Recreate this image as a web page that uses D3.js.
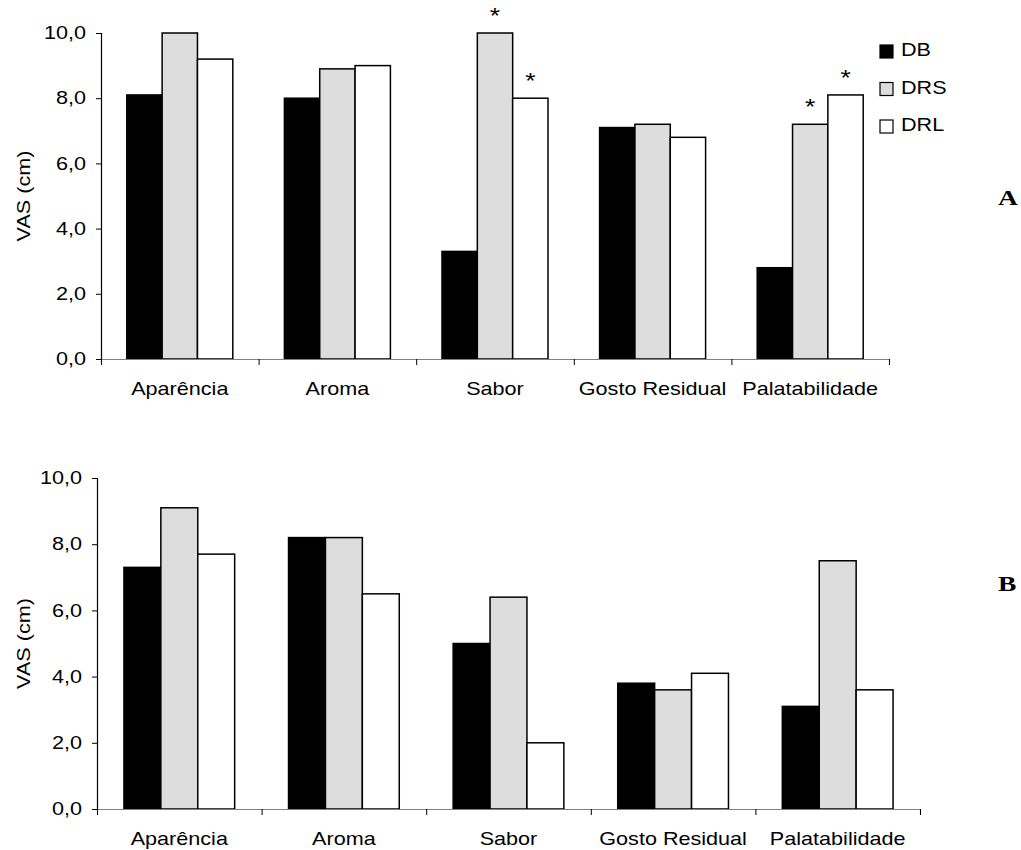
<!DOCTYPE html>
<html>
<head>
<meta charset="utf-8">
<script src="https://cdn.jsdelivr.net/npm/d3@7"></script>
<style>
  body { margin: 0; background: #fff; }
  svg { display: block; font-family: Arial, 'Liberation Sans', sans-serif; }
</style>
</head>
<body>
<div id="chart"></div>
<script>
const categories = ['Aparência', 'Aroma', 'Sabor', 'Gosto Residual', 'Palatabilidade'];
const series = ['DB', 'DRS', 'DRL'];
const yTicks = [0, 2, 4, 6, 8, 10];

// panel A
const dbA = [8.1, 8.0, 3.3, 7.1, 2.8];
const drsA = [10.0, 8.9, 10.0, 7.2, 7.2];
const drlA = [9.2, 9.0, 8.0, 6.8, 8.1];
const starCatsA = ['Sabor', 'Sabor', 'Palatabilidade', 'Palatabilidade'];
const starSeriesA = ['DRS', 'DRL', 'DRS', 'DRL'];

// panel B
const dbB = [7.3, 8.2, 5.0, 3.8, 3.1];
const drsB = [9.1, 8.2, 6.4, 3.6, 7.5];
const drlB = [7.7, 6.5, 2.0, 4.1, 3.6];

const fills = { DB: '#000000', DRS: '#dddddd', DRL: '#ffffff' };
const SX = 1.2; // the source font renders wider than Arial
const fmt = d => d3.format('.1f')(d).replace('.', ',');

const svg = d3.select('#chart')
  .append('svg')
    .attr('width', 1021)
    .attr('height', 850);

// turn x/y of a text into a translate so it can be stretched sideways
function stretch(sel) {
  sel.each(function () {
    const t = d3.select(this);
    const x = +t.attr('x') || 0;
    const y = +t.attr('y') || 0;
    t.attr('x', 0).attr('y', 0)
      .attr('transform', `translate(${x},${y}) scale(${SX},1)`);
  });
}

function panel({ left, top, width, height, values, stars, tag, tagY, legend }) {
  const g = svg.append('g')
    .attr('transform', `translate(${left},${top})`);

  const rows = categories.map((c, i) => ({
    cat: c,
    vals: series.map((s, j) => ({ s, v: values[j][i] })),
  }));

  const x0 = d3.scaleBand().domain(categories).range([0, width]);
  const x1 = d3.scaleBand().domain(series)
    .range([0, x0.bandwidth()])
    .paddingOuter(0.73);
  const xi = d3.scaleLinear().domain([0, categories.length]).range([0, width]);
  const y = d3.scaleLinear().domain([0, 10]).range([height, 0]);

  // y axis
  const ay = g.append('g')
    .call(d3.axisLeft(y).tickValues(yTicks).tickFormat(fmt).tickSize(5).tickPadding(10));
  ay.select('.domain').attr('stroke', '#000').attr('stroke-width', 1.2);
  ay.selectAll('.tick line').attr('stroke', '#000');
  ay.selectAll('.tick text')
    .attr('font-size', 18)
    .attr('fill', '#000')
    .call(stretch);

  // bars
  g.append('g')
    .selectAll('g')
    .data(rows)
    .enter()
    .append('g')
      .attr('transform', d => `translate(${x0(d.cat)},0)`)
    .selectAll('rect')
    .data(d => d.vals)
    .enter()
    .append('rect')
      .attr('x', d => x1(d.s))
      .attr('y', d => y(d.v))
      .attr('width', x1.bandwidth())
      .attr('height', d => height - y(d.v))
      .attr('fill', d => fills[d.s])
      .attr('stroke', '#000')
      .attr('stroke-width', 1.5);

  // x axis: ticks between the categories, labels at their centres
  const ax = g.append('g')
    .attr('transform', `translate(0,${height})`)
    .call(d3.axisBottom(xi).ticks(categories.length).tickFormat('').tickSize(6).tickSizeOuter(6));
  ax.select('.domain').attr('stroke', '#808080').attr('stroke-width', 1.2);
  ax.selectAll('.tick line').attr('stroke', '#000');

  const lx = g.append('g')
    .attr('transform', `translate(0,${height})`)
    .call(d3.axisBottom(x0).tickSize(0).tickPadding(36));
  lx.select('.domain').remove();
  lx.selectAll('.tick text')
    .attr('font-size', 18)
    .attr('fill', '#000')
    .attr('dy', 0)
    .call(stretch);

  // significance marks
  if (stars) {
    g.append('g')
      .selectAll('text')
      .data(stars)
      .enter()
      .append('text')
        .attr('x', d => x0(d.cat) + x1(d.s) + x1.bandwidth() / 2)
        .attr('y', d => y(values[series.indexOf(d.s)][categories.indexOf(d.cat)]) - 10)
        .attr('text-anchor', 'middle')
        .attr('font-size', 22)
        .text('*')
        .call(stretch);
  }

  // y label
  g.append('text')
    .attr('transform', `translate(${-left + 30},${height / 2}) rotate(-90) scale(${SX},1)`)
    .attr('text-anchor', 'middle')
    .attr('font-size', 18)
    .text('VAS (cm)');

  // panel letter
  svg.append('text')
    .attr('transform', `translate(998,${tagY}) scale(1.25,1)`)
    .attr('font-family', "'Liberation Serif', 'Times New Roman', serif")
    .attr('font-weight', 'bold')
    .attr('font-size', 22)
    .text(tag);

  if (legend) {
    const lg = svg.append('g')
      .attr('transform', 'translate(880,45)');
    const item = lg.selectAll('g')
      .data(series)
      .enter()
      .append('g')
        .attr('transform', (d, i) => `translate(0,${i * 37.5})`);
    item.append('rect')
      .attr('width', 13)
      .attr('height', 13)
      .attr('fill', d => fills[d])
      .attr('stroke', '#000')
      .attr('stroke-width', 1.2);
    item.append('text')
      .attr('x', 21)
      .attr('y', 11)
      .attr('font-size', 18)
      .text(d => d)
      .call(stretch);
  }
}

panel({
  left: 101,
  top: 33,
  width: 788,
  height: 326,
  values: [dbA, drsA, drlA],
  stars: starCatsA.map((c, i) => ({ cat: c, s: starSeriesA[i] })),
  tag: 'A',
  tagY: 205,
  legend: true,
});

panel({
  left: 97,
  top: 478,
  width: 823,
  height: 331,
  values: [dbB, drsB, drlB],
  stars: null,
  tag: 'B',
  tagY: 591,
  legend: false,
});
</script>
</body>
</html>
